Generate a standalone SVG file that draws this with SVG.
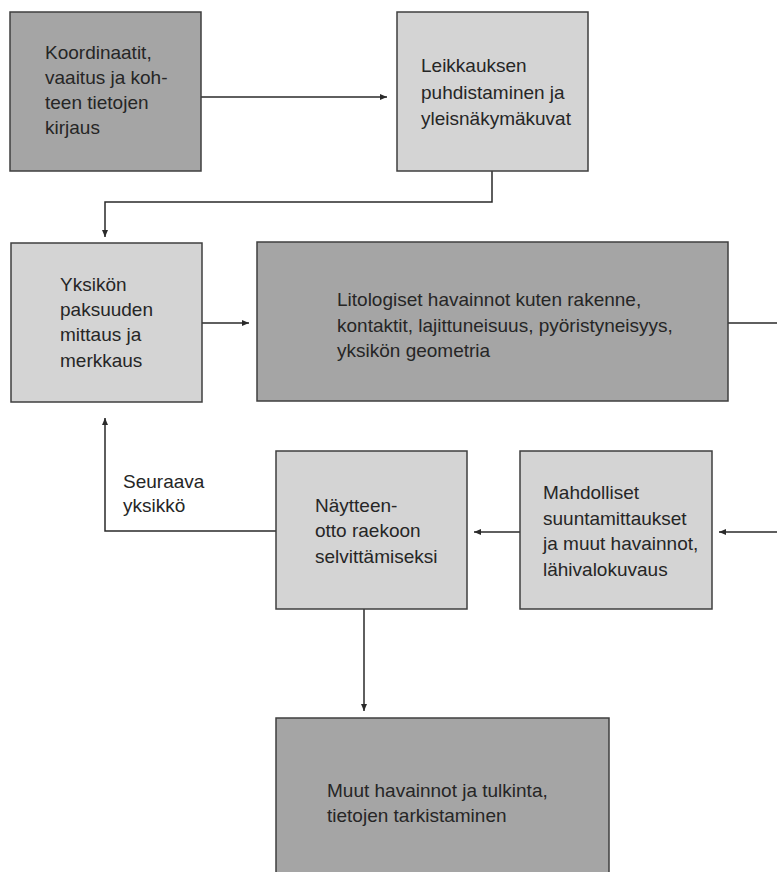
<svg xmlns="http://www.w3.org/2000/svg" width="777" height="872" viewBox="0 0 777 872">
<style>
.dark{fill:#a5a5a5;stroke:#3f3f3f;stroke-width:1.5}
.light{fill:#d4d4d4;stroke:#3f3f3f;stroke-width:1.5}
text{font-family:"Liberation Sans",Arial,sans-serif;font-size:19px;fill:#262626}
.c{fill:none;stroke:#2a2a2a;stroke-width:1.5}
</style>
<defs>
<marker id="ah" markerUnits="userSpaceOnUse" markerWidth="8" markerHeight="7" refX="7" refY="3.5" orient="auto">
<path d="M0,0.5 L7,3.5 L0,6.5 z" fill="#2a2a2a"/>
</marker>
</defs>
<rect width="777" height="872" fill="#fff"/>
<g id="connectors">
<path class="c" d="M201,97 H387" marker-end="url(#ah)"/>
<path class="c" d="M492,171 V202 H105 V237" marker-end="url(#ah)"/>
<path class="c" d="M202,323 H249" marker-end="url(#ah)"/>
<path class="c" d="M728,323 H777"/>
<path class="c" d="M777,532 H719" marker-end="url(#ah)"/>
<path class="c" d="M520,532 H474" marker-end="url(#ah)"/>
<path class="c" d="M276,531 H105 V418" marker-end="url(#ah)"/>
<path class="c" d="M364,609 V711" marker-end="url(#ah)"/>
<text x="123" y="488">Seuraava</text>
<text x="123" y="512">yksikkö</text>
</g>
<g id="n1">
<rect class="dark" x="10" y="12" width="191" height="159"/>
<text x="45" y="59">Koordinaatit,</text>
<text x="45" y="84">vaaitus ja koh-</text>
<text x="45" y="109">teen tietojen</text>
<text x="45" y="134">kirjaus</text>
</g>
<g id="n2">
<rect class="light" x="397" y="12" width="191" height="159"/>
<text x="421" y="72">Leikkauksen</text>
<text x="421" y="99">puhdistaminen ja</text>
<text x="421" y="125">yleisnäkymäkuvat</text>
</g>
<g id="n3">
<rect class="light" x="11" y="243" width="191" height="159"/>
<text x="60" y="291">Yksikön</text>
<text x="60" y="316">paksuuden</text>
<text x="60" y="341">mittaus ja</text>
<text x="60" y="367">merkkaus</text>
</g>
<g id="n4">
<rect class="dark" x="257" y="242" width="471" height="159"/>
<text x="337" y="306">Litologiset havainnot kuten rakenne,</text>
<text x="337" y="332">kontaktit, lajittuneisuus, pyöristyneisyys,</text>
<text x="337" y="357">yksikön geometria</text>
</g>
<g id="n5">
<rect class="light" x="276" y="451" width="191" height="158"/>
<text x="315" y="512">Näytteen-</text>
<text x="315" y="537">otto raekoon</text>
<text x="315" y="563">selvittämiseksi</text>
</g>
<g id="n6">
<rect class="light" x="520" y="451" width="192" height="158"/>
<text x="543" y="499">Mahdolliset</text>
<text x="543" y="525">suuntamittaukset</text>
<text x="543" y="550">ja muut havainnot,</text>
<text x="543" y="576">lähivalokuvaus</text>
</g>
<g id="n7">
<rect class="dark" x="276" y="718" width="333" height="165"/>
<text x="327" y="797">Muut havainnot ja tulkinta,</text>
<text x="327" y="822">tietojen tarkistaminen</text>
</g>
</svg>
